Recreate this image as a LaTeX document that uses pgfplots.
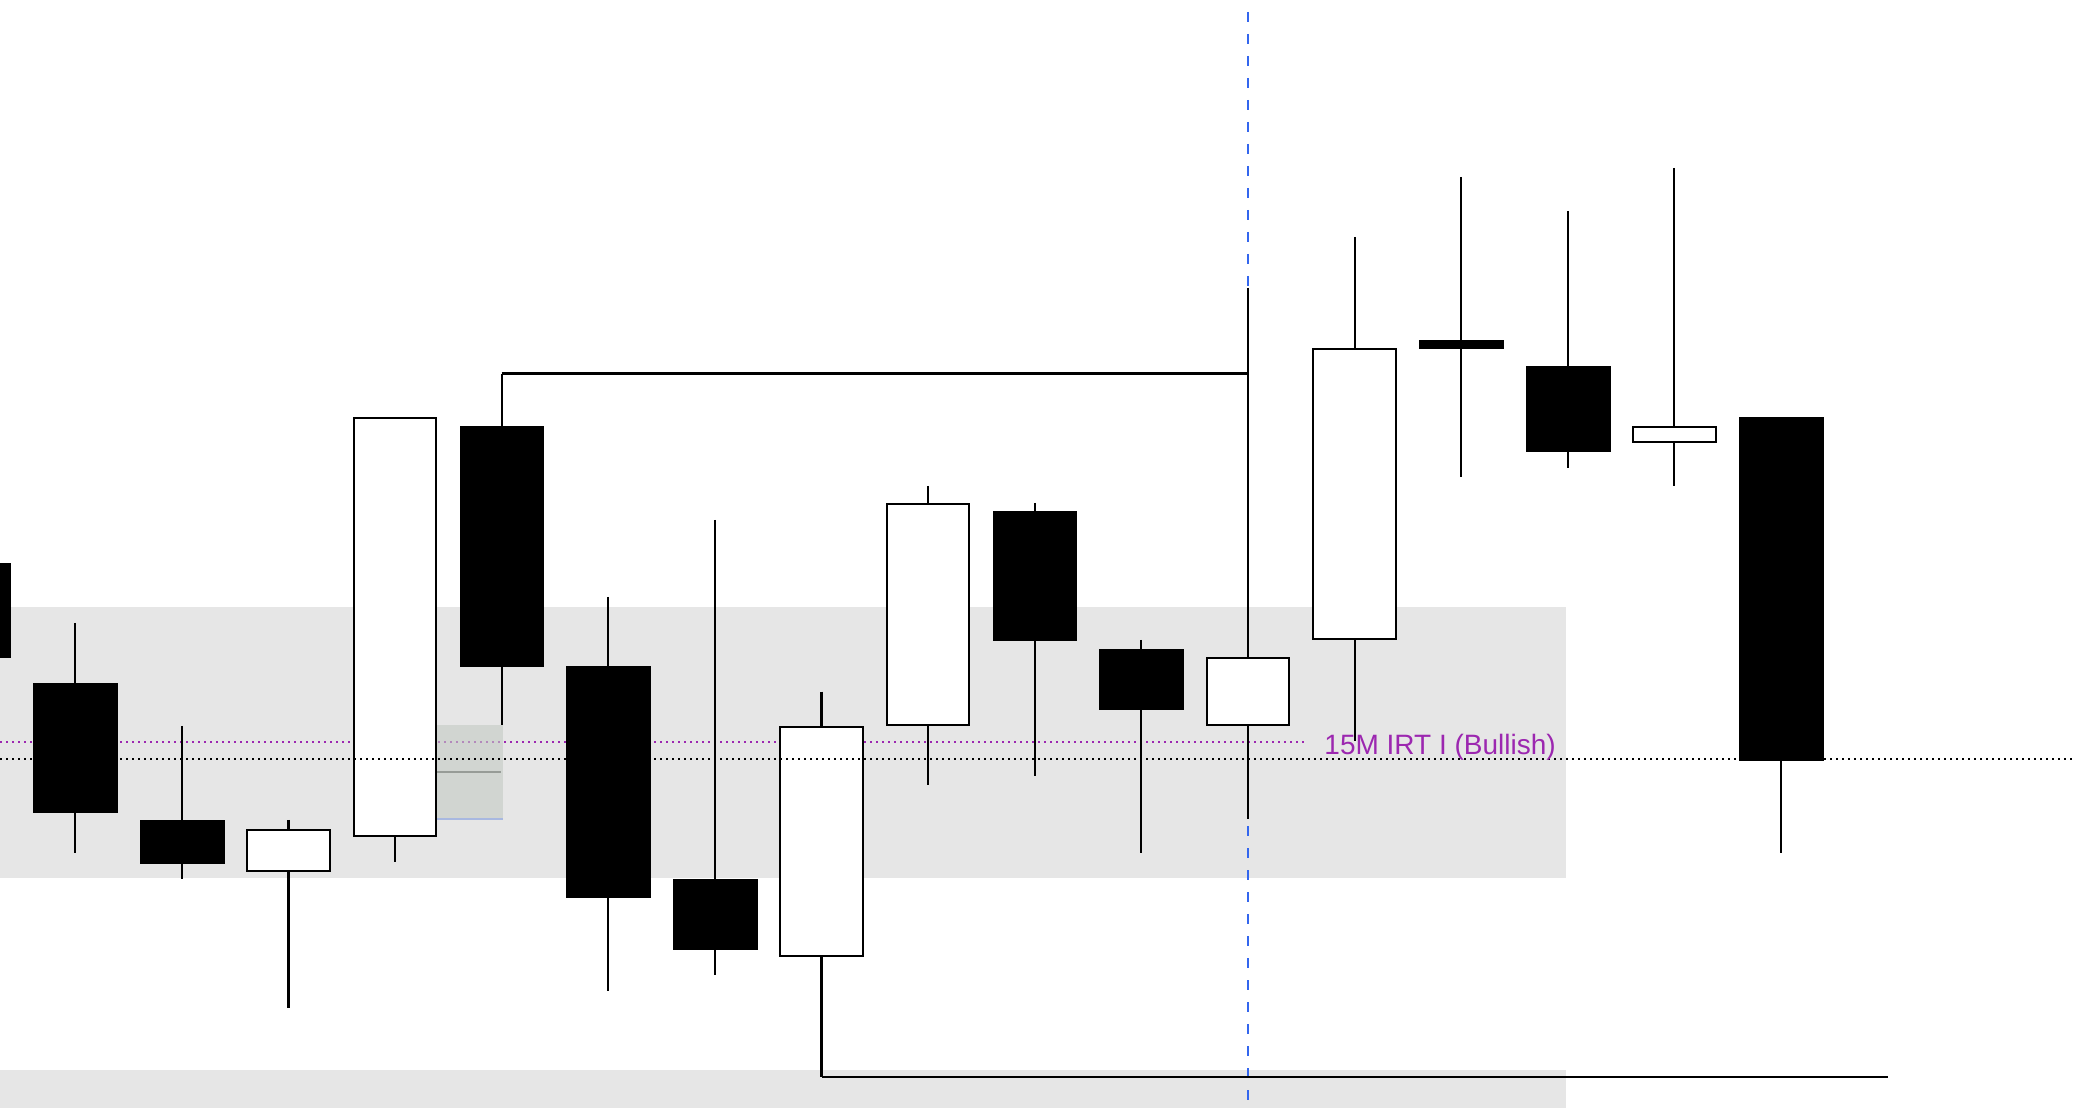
\documentclass[border=0pt]{standalone}
\usepackage{pgfplots}
\pgfplotsset{compat=1.18}
\usepackage{fontspec}
\setmainfont{Liberation Sans}
\definecolor{band}{HTML}{E6E6E6}
\definecolor{irt}{HTML}{9C27B0}
\definecolor{boxc}{HTML}{C3CBC3}
\definecolor{boxline}{HTML}{979C97}
\definecolor{boxblue}{HTML}{A8B8E0}
\definecolor{vblue}{HTML}{3366EE}
\begin{document}
\begin{tikzpicture}
\begin{axis}[
  width=1037pt, height=554pt, scale only axis,
  xmin=0, xmax=1568, ymin=0, ymax=838, y dir=reverse,
  hide axis, clip=true, no markers,
  unbounded coords=jump,
]
% shaded zones
\addplot[fill=band, draw=none] coordinates {(0,458.8) (1184,458.8) (1184,664.3) (0,664.3)} -- cycle;
\addplot[fill=band, draw=none] coordinates {(0,809) (1184,809) (1184,838) (0,838)} -- cycle;
% purple IRT level
\addplot[irt, line width=1pt, dash pattern=on 1pt off 2pt] coordinates {(0,561.5) (988,561.5)};
% small box
\addplot[fill=boxc, fill opacity=0.6, draw=none] coordinates {(330,548) (380,548) (380,619.7) (330,619.7)} -- cycle;
\addplot[boxline, line width=1pt] coordinates {(330,584.2) (379,584.2)};
\addplot[boxblue, line width=1pt] coordinates {(330,619.7) (380,619.7)};
% vertical blue dashed line
\addplot[vblue, line width=1pt, dash pattern=on 5pt off 6pt, dash phase=5pt] coordinates {(943.5,0) (943.5,838)};
% wicks
\addplot[black, line width=1.05pt] coordinates {
 (56.9,471) (56.9,645.2) (56.9,nan)
 (137.5,548.9) (137.5,665) (137.5,nan)
 (218.1,620) (218.1,762) (218.1,nan)
 (298.7,315.8) (298.7,652) (298.7,nan)
 (379.3,282.5) (379.3,548) (379.3,nan)
 (459.9,451.4) (459.9,749.7) (459.9,nan)
 (540.5,393.1) (540.5,737.1) (540.5,nan)
 (621.1,523) (621.1,814.2) (621.1,nan)
 (701.7,367.4) (701.7,594) (701.7,nan)
 (782.3,380.3) (782.3,587.2) (782.3,nan)
 (862.9,483.9) (862.9,645) (862.9,nan)
 (943.5,217.5) (943.5,619.4) (943.5,nan)
 (1024.1,179.2) (1024.1,560.7) (1024.1,nan)
 (1104.7,133.8) (1104.7,360.4) (1104.7,nan)
 (1185.3,159.5) (1185.3,354.3) (1185.3,nan)
 (1265.9,127) (1265.9,367.2) (1265.9,nan)
 (1346.5,575) (1346.5,645)
};
% structure lines
\addplot[black, line width=1.05pt] coordinates {(379.3,282.5) (943.5,282.5)};
\addplot[black, line width=1.05pt] coordinates {(621.1,814.2) (1427.5,814.2)};
% bearish bodies
\addplot[fill=black, draw=black, line width=0.2pt] coordinates {(-55.4,425.6) (8.0,425.6) (8.0,497.0) (-55.4,497.0)} -- cycle;
\addplot[fill=black, draw=black, line width=0.2pt] coordinates {(25.2,516.4) (88.6,516.4) (88.6,614.4) (25.2,614.4)} -- cycle;
\addplot[fill=black, draw=black, line width=0.2pt] coordinates {(105.8,620) (169.2,620) (169.2,653) (105.8,653)} -- cycle;
\addplot[fill=black, draw=black, line width=0.2pt] coordinates {(347.6,322.3) (411.0,322.3) (411.0,504) (347.6,504)} -- cycle;
\addplot[fill=black, draw=black, line width=0.2pt] coordinates {(428.2,503.5) (491.6,503.5) (491.6,678.7) (428.2,678.7)} -- cycle;
\addplot[fill=black, draw=black, line width=0.2pt] coordinates {(508.8,665.3) (572.2,665.3) (572.2,718.2) (508.8,718.2)} -- cycle;
\addplot[fill=black, draw=black, line width=0.2pt] coordinates {(750.6,386.3) (814.0,386.3) (814.0,484.4) (750.6,484.4)} -- cycle;
\addplot[fill=black, draw=black, line width=0.2pt] coordinates {(831.2,490.7) (894.6,490.7) (894.6,536.5) (831.2,536.5)} -- cycle;
\addplot[fill=black, draw=black, line width=0.2pt] coordinates {(1073.0,257) (1136.4,257) (1136.4,263.6) (1073.0,263.6)} -- cycle;
\addplot[fill=black, draw=black, line width=0.2pt] coordinates {(1153.6,276.7) (1217.0,276.7) (1217.0,341.5) (1153.6,341.5)} -- cycle;
\addplot[fill=black, draw=black, line width=0.2pt] coordinates {(1314.8,315.3) (1378.2,315.3) (1378.2,575) (1314.8,575)} -- cycle;
% bullish bodies
\addplot[fill=white, draw=black, line width=1pt] coordinates {(187.0,627.8) (249.2,627.8) (249.2,658.6) (187.0,658.6)} -- cycle;
\addplot[fill=white, draw=black, line width=1pt] coordinates {(267.6,316.4) (329.8,316.4) (329.8,631.9) (267.6,631.9)} -- cycle;
\addplot[fill=white, draw=black, line width=1pt] coordinates {(590.0,550.0) (652.2,550.0) (652.2,722.9) (590.0,722.9)} -- cycle;
\addplot[fill=white, draw=black, line width=1pt] coordinates {(670.6,381.4) (732.8,381.4) (732.8,548.3) (670.6,548.3)} -- cycle;
\addplot[fill=white, draw=black, line width=1pt] coordinates {(912.4,497.6) (974.6,497.6) (974.6,548.3) (912.4,548.3)} -- cycle;
\addplot[fill=white, draw=black, line width=1pt] coordinates {(993.0,264.2) (1055.2,264.2) (1055.2,483.4) (993.0,483.4)} -- cycle;
\addplot[fill=white, draw=black, line width=1pt] coordinates {(1234.8,322.9) (1297.0,322.9) (1297.0,334.4) (1234.8,334.4)} -- cycle;
% black dotted level
\addplot[black, line width=1pt, dash pattern=on 1pt off 2pt] coordinates {(0,574.3) (1568,574.3)};
% label
\node[anchor=base west, text=irt, inner sep=0pt, font=\fontsize{14}{16}\selectfont] at (axis cs:1001,570.3) {15M IRT I (Bullish)};
\end{axis}
\pgfresetboundingbox
\path (current axis.south west) rectangle (current axis.north east);
\end{tikzpicture}
\end{document}
